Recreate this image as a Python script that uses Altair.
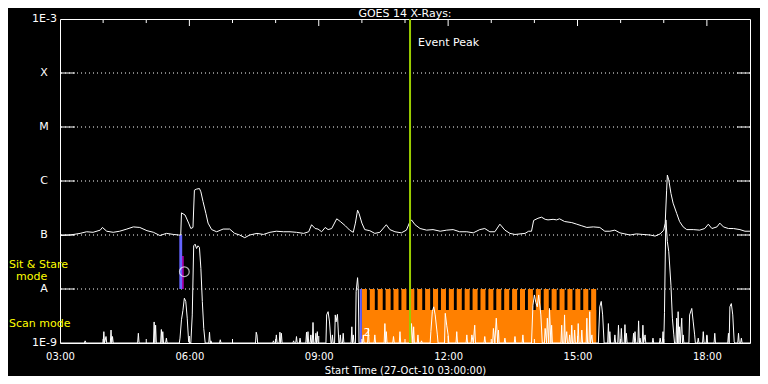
import altair as alt
import pandas as pd

DAY = "2010-10-27 "

# GOES 14 long channel (1-8 A): (time, log10 flux W/m^2)
long_channel = [
    ("03:00", -7.01), ("03:14", -7.00), ("03:28", -6.97), ("03:37", -6.94), ("03:46", -6.95),
    ("03:56", -6.91), ("03:59", -6.86), ("04:05", -6.93), ("04:14", -6.95), ("04:23", -6.93),
    ("04:33", -6.89), ("04:42", -6.85), ("04:51", -6.86), ("05:01", -6.92), ("05:10", -6.95),
    ("05:19", -7.01), ("05:28", -6.97), ("05:38", -6.99), ("05:45", -7.00), ("05:48", -7.00),
    ("05:49", -6.59), ("05:54", -6.63), ("05:59", -6.78), ("06:02", -6.88), ("06:05", -6.86),
    ("06:07", -6.17), ("06:10", -6.15), ("06:14", -6.14), ("06:16", -6.20), ("06:19", -6.38),
    ("06:23", -6.60), ("06:26", -6.78), ("06:31", -6.90), ("06:38", -6.94), ("06:47", -6.89),
    ("06:56", -6.89), ("07:03", -6.97), ("07:10", -7.00), ("07:17", -7.05), ("07:24", -7.00),
    ("07:34", -6.97), ("07:43", -6.99), ("07:52", -6.95), ("08:01", -6.93), ("08:11", -6.94),
    ("08:20", -6.94), ("08:29", -6.95), ("08:39", -6.97), ("08:46", -6.94), ("08:50", -6.81),
    ("08:55", -6.88), ("08:59", -6.89), ("09:04", -6.94), ("09:09", -6.86), ("09:13", -6.90),
    ("09:18", -6.88), ("09:25", -6.70), ("09:30", -6.75), ("09:37", -6.83), ("09:43", -6.91),
    ("09:48", -6.95), ("09:51", -6.78), ("09:54", -6.54), ("09:56", -6.60), ("10:00", -6.78),
    ("10:04", -6.90), ("10:11", -6.92), ("10:18", -6.97), ("10:25", -6.95), ("10:34", -6.81),
    ("10:39", -6.90), ("10:46", -6.94), ("10:55", -6.96), ("11:02", -6.91), ("11:06", -6.78),
    ("11:09", -6.72), ("11:14", -6.81), ("11:21", -6.88), ("11:30", -6.91), ("11:39", -6.90),
    ("11:49", -6.93), ("11:58", -6.91), ("12:07", -6.90), ("12:16", -6.94), ("12:26", -6.94),
    ("12:35", -6.96), ("12:44", -6.90), ("12:51", -6.88), ("12:58", -6.94), ("13:05", -6.94),
    ("13:12", -6.80), ("13:19", -6.91), ("13:26", -6.97), ("13:33", -6.99), ("13:40", -6.98),
    ("13:47", -6.97), ("13:52", -6.93), ("13:56", -6.93), ("13:59", -6.73), ("14:05", -6.69),
    ("14:10", -6.67), ("14:15", -6.71), ("14:19", -6.72), ("14:26", -6.71), ("14:31", -6.72),
    ("14:35", -6.70), ("14:42", -6.75), ("14:52", -6.77), ("14:59", -6.80), ("15:06", -6.83),
    ("15:13", -6.86), ("15:22", -6.85), ("15:31", -6.86), ("15:38", -6.93), ("15:45", -6.93),
    ("15:52", -6.91), ("15:59", -6.96), ("16:06", -6.98), ("16:13", -7.00), ("16:22", -6.98),
    ("16:31", -6.99), ("16:41", -7.00), ("16:48", -7.02), ("16:55", -6.98), ("17:00", -6.91),
    ("17:02", -6.78), ("17:04", -6.17), ("17:05", -5.89), ("17:07", -5.98), ("17:10", -6.23),
    ("17:13", -6.41), ("17:18", -6.60), ("17:22", -6.75), ("17:27", -6.85), ("17:32", -6.90),
    ("17:41", -6.90), ("17:50", -6.91), ("17:57", -6.88), ("18:02", -6.80), ("18:07", -6.88),
    ("18:14", -6.85), ("18:18", -6.78), ("18:23", -6.85), ("18:30", -6.88), ("18:37", -6.88),
    ("18:46", -6.90), ("18:53", -6.93), ("19:00", -6.93),
]

# GOES 14 short channel (0.5-4 A): (time, log10 flux); -9 = at/below the 1E-9 floor
short_channel = [
    ("03:00", -9), ("03:34", -9), ("03:35", -8.96), ("03:36", -9),
    ("04:00", -9), ("04:01", -8.79), ("04:02", -9), ("04:04", -8.88), ("04:05", -9),
    ("04:10", -9), ("04:11", -8.76), ("04:12", -9), ("04:13", -8.88), ("04:14", -9),
    ("04:48", -9), ("04:49", -8.82), ("04:50", -9),
    ("05:10", -9), ("05:11", -8.61), ("05:12", -9), ("05:13", -8.67), ("05:14", -9),
    ("05:20", -9), ("05:21", -8.75), ("05:22", -9), ("05:23", -8.79), ("05:24", -9),
    ("05:27", -9), ("05:28", -8.91), ("05:29", -9),
    ("05:46", -9), ("05:47", -8.91), ("05:49", -8.57), ("05:51", -8.40), ("05:53", -8.17),
    ("05:55", -8.23), ("05:57", -8.54), ("05:59", -8.98), ("06:02", -9), ("06:04", -8.48),
    ("06:06", -7.20), ("06:08", -7.17), ("06:10", -7.25), ("06:12", -7.20), ("06:14", -7.23),
    ("06:16", -7.62), ("06:18", -8.23), ("06:20", -8.73), ("06:22", -9),
    ("06:27", -9), ("06:28", -8.80), ("06:29", -9), ("06:30", -8.96), ("06:31", -9),
    ("06:42", -9), ("06:43", -8.94), ("06:44", -9),
    ("07:32", -9), ("07:33", -8.80), ("07:34", -8.85), ("07:35", -9),
    ("07:56", -9), ("07:57", -8.96), ("07:58", -9),
    ("08:00", -9), ("08:01", -8.85), ("08:02", -9),
    ("08:05", -9), ("08:06", -8.80), ("08:07", -9), ("08:08", -8.82), ("08:09", -9),
    ("08:24", -9), ("08:25", -8.96), ("08:26", -9),
    ("08:28", -9), ("08:29", -8.88), ("08:30", -9),
    ("08:33", -9), ("08:34", -8.91), ("08:35", -9),
    ("08:42", -9), ("08:43", -8.80), ("08:44", -9), ("08:45", -8.79), ("08:46", -9),
    ("08:48", -9), ("08:49", -8.85), ("08:50", -9),
    ("08:51", -9), ("08:52", -8.62), ("08:53", -9),
    ("08:55", -9), ("08:56", -8.82), ("08:57", -9), ("08:58", -8.79), ("08:59", -9),
    ("09:10", -9), ("09:11", -8.48), ("09:13", -8.42), ("09:15", -8.61), ("09:17", -9),
    ("09:18", -9), ("09:19", -8.85), ("09:20", -9),
    ("09:22", -9), ("09:23", -8.48), ("09:24", -8.61), ("09:26", -8.47), ("09:28", -9),
    ("09:29", -9), ("09:30", -8.85), ("09:31", -9),
    ("09:33", -9), ("09:34", -8.82), ("09:35", -9),
    ("09:45", -9), ("09:46", -8.70), ("09:47", -9), ("09:48", -8.85), ("09:49", -9),
    ("09:51", -9), ("09:52", -8.05), ("09:54", -7.79), ("09:55", -7.99), ("09:56", -9),
    ("10:01", -9), ("10:02", -8.85), ("10:03", -9),
    ("10:08", -9), ("10:09", -8.73), ("10:10", -9),
    ("10:17", -9), ("10:18", -8.85), ("10:19", -9),
    ("10:31", -9), ("10:32", -8.64), ("10:33", -9), ("10:34", -8.79), ("10:35", -9),
    ("10:43", -9), ("10:44", -8.88), ("10:45", -9),
    ("10:52", -9), ("10:53", -8.79), ("10:54", -9),
    ("11:08", -9), ("11:09", -8.64), ("11:11", -9), ("11:12", -8.70), ("11:13", -9),
    ("11:17", -9), ("11:18", -8.85), ("11:19", -9),
    ("11:22", -9), ("11:23", -8.96), ("11:24", -9),
    ("11:35", -9), ("11:36", -8.79), ("11:38", -8.42), ("11:40", -8.33), ("11:42", -8.48),
    ("11:45", -8.85), ("11:46", -9),
    ("11:55", -9), ("11:56", -8.45), ("11:58", -8.67), ("12:00", -8.85), ("12:01", -9),
    ("12:11", -9), ("12:12", -8.79), ("12:13", -9),
    ("12:25", -9), ("12:26", -8.85), ("12:27", -9),
    ("12:32", -9), ("12:33", -8.85), ("12:35", -9), ("12:37", -8.67), ("12:38", -9),
    ("12:50", -9), ("12:51", -8.88), ("12:52", -9),
    ("13:02", -9), ("13:03", -8.73), ("13:05", -9), ("13:07", -8.54), ("13:09", -9),
    ("13:10", -8.76), ("13:11", -9),
    ("13:18", -9), ("13:19", -8.91), ("13:20", -9),
    ("13:32", -9), ("13:33", -8.88), ("13:34", -9),
    ("13:43", -9), ("13:44", -8.85), ("13:45", -9),
    ("13:56", -9), ("13:58", -8.30), ("14:00", -8.11), ("14:02", -8.25), ("14:04", -8.33),
    ("14:06", -8.11), ("14:09", -8.48), ("14:11", -9),
    ("14:14", -9), ("14:15", -8.73), ("14:17", -9), ("14:18", -8.54), ("14:20", -9),
    ("14:21", -8.36), ("14:23", -9), ("14:24", -8.67), ("14:25", -9),
    ("14:37", -9), ("14:38", -8.67), ("14:39", -9), ("14:41", -9), ("14:42", -8.48),
    ("14:43", -9), ("14:45", -8.79), ("14:46", -9),
    ("14:48", -9), ("14:49", -8.85), ("14:50", -9), ("14:51", -9), ("14:52", -8.67), ("14:53", -9),
    ("14:55", -9), ("14:56", -8.76), ("14:57", -9),
    ("15:00", -9), ("15:01", -8.64), ("15:02", -9),
    ("15:05", -9), ("15:06", -8.76), ("15:07", -9),
    ("15:12", -9), ("15:13", -8.54), ("15:14", -9), ("15:16", -9), ("15:17", -8.42),
    ("15:18", -9), ("15:20", -8.85), ("15:21", -9),
    ("15:29", -9), ("15:31", -8.33), ("15:33", -8.23), ("15:35", -8.48), ("15:37", -9),
    ("15:42", -9), ("15:43", -8.64), ("15:44", -9), ("15:45", -8.79), ("15:46", -9),
    ("15:51", -9), ("15:52", -8.85), ("15:53", -9),
    ("15:56", -9), ("15:57", -8.67), ("15:58", -9),
    ("16:00", -9), ("16:01", -8.73), ("16:02", -9),
    ("16:05", -9), ("16:06", -8.66), ("16:07", -9), ("16:08", -8.82), ("16:09", -9),
    ("16:17", -9), ("16:18", -8.82), ("16:19", -9), ("16:20", -8.79), ("16:21", -9),
    ("16:24", -9), ("16:25", -8.59), ("16:26", -9), ("16:27", -8.91), ("16:28", -9),
    ("16:30", -9), ("16:31", -8.67), ("16:32", -9), ("16:34", -8.85), ("16:35", -9),
    ("16:44", -9), ("16:45", -8.91), ("16:46", -9),
    ("16:54", -9), ("16:55", -8.91), ("16:56", -9),
    ("16:58", -9), ("16:59", -8.79), ("17:00", -9), ("17:01", -8.44), ("17:02", -7.50),
    ("17:03", -6.72), ("17:05", -7.12), ("17:07", -7.31), ("17:10", -7.93), ("17:12", -8.54),
    ("17:14", -8.85), ("17:15", -9),
    ("17:17", -9), ("17:18", -8.54), ("17:19", -9), ("17:20", -8.42), ("17:21", -9),
    ("17:22", -8.70), ("17:23", -9), ("17:25", -8.54), ("17:26", -9), ("17:27", -8.85), ("17:28", -9),
    ("17:35", -9), ("17:36", -8.48), ("17:39", -8.36), ("17:41", -8.61), ("17:43", -8.85), ("17:44", -9),
    ("17:47", -9), ("17:48", -8.91), ("17:49", -9),
    ("17:54", -9), ("17:55", -8.79), ("17:56", -9),
    ("17:59", -9), ("18:00", -8.85), ("18:01", -9),
    ("18:10", -9), ("18:11", -8.82), ("18:12", -9),
    ("18:29", -9), ("18:30", -8.82), ("18:31", -9), ("18:32", -8.33), ("18:34", -8.27),
    ("18:36", -8.48), ("18:38", -8.98), ("18:39", -9),
    ("18:43", -9), ("18:44", -8.82), ("18:45", -9),
    ("18:47", -9), ("18:48", -8.91), ("18:49", -9),
    ("19:00", -9),
]

class_levels = [-8, -7, -6, -5, -4]
class_names = ["A", "B", "C", "M", "X"]
end_levels = [-9, -3]
end_names = ["1E-9", "1E-3"]

label_hours = [3, 6, 9, 12, 15, 18]
minor_hours = [4, 5, 7, 8, 10, 11, 13, 14, 16, 17]
major_hours = [6, 9, 12, 15, 18]

# scan-mode rasters
scan_start = ["10:00", "10:11", "10:22", "10:33", "10:44", "10:55", "11:06", "11:17", "11:28", "11:39",
              "11:50", "12:01", "12:12", "12:23", "12:34", "12:45", "12:56", "13:07", "13:18", "13:29",
              "13:40", "13:51", "14:02", "14:13", "14:24", "14:35", "14:46", "14:57", "15:08", "15:19"]
scan_end = ["10:07", "10:18", "10:29", "10:40", "10:51", "11:02", "11:13", "11:24", "11:35", "11:46",
            "11:57", "12:08", "12:19", "12:30", "12:41", "12:52", "13:03", "13:14", "13:25", "13:36",
            "13:47", "13:58", "14:09", "14:20", "14:31", "14:42", "14:53", "15:04", "15:15", "15:26"]
scan_span = ["10:00", "15:26"]
scan_tooth_top = -8.0
scan_base_top = -8.39

# other pointings: start, end, low, high, colour
pointings = [
    ("05:46", "05:50", -8.0, -7.0, "#6464ff"),
    ("05:50", "05:52", -8.0, -7.39, "#c800c8"),
    ("09:57", "10:00", -9.0, -8.0, "#6464ff"),
]
stare_marker = ("05:53", -7.68)
scan_marker = ("10:07", -8.81, "2")
event_peak = "11:07"
event_label_level = -3.44

sit_label_levels = [-7.56, -7.78, -8.65]
title_text = "GOES 14 X-Rays:"


def ts(s):
    return pd.to_datetime(DAY + s)


def dt(h):
    return alt.DateTime(year=2010, month=10, date=27, hours=h)


FONT = "DejaVu Sans"
xscale = alt.Scale(domain=[dt(3), dt(19)])
yscale = alt.Scale(domain=[-9, -3], nice=False, zero=False)
xaxis = alt.Axis(values=[dt(h) for h in label_hours], format="%H:%M", domain=False, ticks=False,
                 grid=False, labelColor="white", labelFont=FONT, labelFontSize=10, labelPadding=8,
                 labelOverlap=False, labelFlush=False, title="Start Time (27-Oct-10 03:00:00)",
                 titleColor="white", titleFont=FONT, titleFontSize=10, titleFontWeight="normal",
                 titlePadding=4)


def X(f):
    return alt.X(f"{f}:T", scale=xscale, axis=xaxis)


def Y(f):
    return alt.Y(f"{f}:Q", scale=yscale, axis=None)


long_df = pd.DataFrame({"t": [ts(a) for a, _ in long_channel], "v": [b for _, b in long_channel]})
short_df = pd.DataFrame({"t": [ts(a) for a, _ in short_channel], "v": [b for _, b in short_channel]})
class_df = pd.DataFrame({"lvl": class_levels, "name": class_names})
end_df = pd.DataFrame({"lvl": end_levels, "name": end_names})
minor_df = pd.DataFrame({"t": [ts(f"{h:02d}:00") for h in minor_hours]})
major_df = pd.DataFrame({"t": [ts(f"{h:02d}:00") for h in major_hours]})
teeth_df = pd.DataFrame({"s": [ts(a) for a in scan_start], "e": [ts(b) for b in scan_end],
                         "lo": -9.0, "hi": scan_tooth_top})
base_df = pd.DataFrame({"s": [ts(scan_span[0])], "e": [ts(scan_span[1])], "lo": [-9.0], "hi": [scan_base_top]})
point_df = pd.DataFrame({"s": [ts(p[0]) for p in pointings], "e": [ts(p[1]) for p in pointings],
                         "lo": [p[2] for p in pointings], "hi": [p[3] for p in pointings],
                         "c": [p[4] for p in pointings]})
stare_df = pd.DataFrame({"t": [ts(stare_marker[0])], "v": [stare_marker[1]]})
scanm_df = pd.DataFrame({"t": [ts(scan_marker[0])], "v": [scan_marker[1]], "txt": [scan_marker[2]]})
peak_df = pd.DataFrame({"t": [ts(event_peak)], "v": [event_label_level], "txt": ["Event Peak"]})
sit_df = pd.DataFrame({"v": sit_label_levels, "txt": ["Sit & Stare", "mode", "Scan mode"]})
title_df = pd.DataFrame({"txt": [title_text]})

grid = alt.Chart(class_df).mark_rule(color="white", strokeWidth=1, strokeDash=[1, 3]).encode(y=Y("lvl"))
base = alt.Chart(base_df).mark_rect(color="#ff8000").encode(x=X("s"), x2="e", y=Y("lo"), y2="hi")
teeth = alt.Chart(teeth_df).mark_rect(color="#ff8000").encode(x=X("s"), x2="e", y=Y("lo"), y2="hi")
pts = alt.Chart(point_df).mark_rect().encode(x=X("s"), x2="e", y=Y("lo"), y2="hi",
                                             color=alt.Color("c:N", scale=None))
short_line = alt.Chart(short_df).mark_line(color="white", strokeWidth=1, clip=True).encode(x=X("t"), y=Y("v"))
long_line = alt.Chart(long_df).mark_line(color="white", strokeWidth=1, clip=True).encode(x=X("t"), y=Y("v"))
peak_rule = alt.Chart(peak_df).mark_rule(color="#9acd00", strokeWidth=2).encode(x=X("t"))
peak_text = alt.Chart(peak_df).mark_text(color="white", font=FONT, fontSize=11, align="left",
                                         baseline="middle", dx=8).encode(x=X("t"), y=Y("v"), text="txt")
stare_pt = alt.Chart(stare_df).mark_point(shape="circle", size=95, color="white", filled=False,
                                          strokeWidth=1.2).encode(x=X("t"), y=Y("v"))
scan_txt = alt.Chart(scanm_df).mark_text(color="white", font=FONT, fontSize=11, baseline="middle").encode(
    x=X("t"), y=Y("v"), text="txt")

left_ticks = alt.Chart(class_df).mark_rule(color="white", strokeWidth=1).encode(
    y=Y("lvl"), x=alt.value(0), x2=alt.value(15))
right_ticks = alt.Chart(class_df).mark_rule(color="white", strokeWidth=1).encode(
    y=Y("lvl"), x=alt.value(677), x2=alt.value(690))
top_minor = alt.Chart(minor_df).mark_rule(color="white").encode(x=X("t"), y=alt.value(0), y2=alt.value(4))
top_major = alt.Chart(major_df).mark_rule(color="white").encode(x=X("t"), y=alt.value(0), y2=alt.value(7))
bot_minor = alt.Chart(minor_df).mark_rule(color="white").encode(x=X("t"), y=alt.value(324), y2=alt.value(320))
bot_major = alt.Chart(major_df).mark_rule(color="white").encode(x=X("t"), y=alt.value(324), y2=alt.value(317))

class_text = alt.Chart(class_df).mark_text(color="white", font=FONT, fontSize=11, align="center",
                                           baseline="middle").encode(y=Y("lvl"), x=alt.value(-16), text="name")
end_text = alt.Chart(end_df).mark_text(color="white", font=FONT, fontSize=11, align="right",
                                       baseline="middle").encode(y=Y("lvl"), x=alt.value(-3), text="name")
sit_text = alt.Chart(sit_df).transform_filter(alt.datum.txt != "mode").mark_text(
    color="#ffff00", font=FONT, fontSize=11, align="left", baseline="middle").encode(
    y=Y("v"), x=alt.value(-51), text="txt")
mode_text = alt.Chart(sit_df).transform_filter(alt.datum.txt == "mode").mark_text(
    color="#ffff00", font=FONT, fontSize=11, align="left", baseline="middle").encode(
    y=Y("v"), x=alt.value(-44), text="txt")
title_mark = alt.Chart(title_df).mark_text(color="white", font=FONT, fontSize=11, align="center",
                                           baseline="middle").encode(
    x=alt.value(345), y=alt.value(-5), text="txt")

chart = alt.layer(
    grid, base, teeth, pts, short_line, long_line, peak_rule, peak_text, stare_pt, scan_txt,
    left_ticks, right_ticks, top_minor, top_major, bot_minor, bot_major,
    class_text, end_text, sit_text, mode_text, title_mark,
).properties(
    width=690, height=324,
    padding={"left": 52, "top": 11, "right": 10, "bottom": 33},
    autosize=alt.AutoSizeParams(type="none"),
    background="black",
).configure_view(stroke="white", strokeWidth=1)

chart.save("out.html", embed_options={"renderer": "svg", "actions": False})
